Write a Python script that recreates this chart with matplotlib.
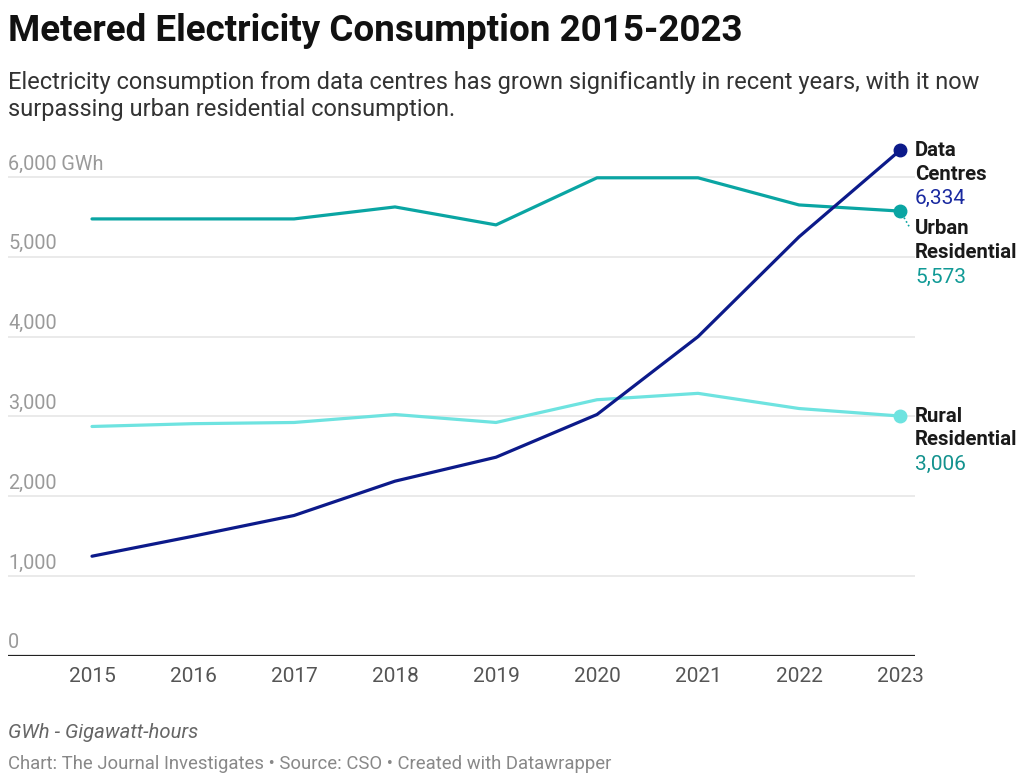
import matplotlib
matplotlib.use("Agg")
import matplotlib.pyplot as plt
import matplotlib.transforms as mtransforms

years = [2015, 2016, 2017, 2018, 2019, 2020, 2021, 2022, 2023]
data_centres = [1250, 1500, 1760, 2190, 2490, 3025, 4000, 5250, 6334]
urban_residential = [5475, 5475, 5475, 5625, 5400, 5990, 5990, 5650, 5573]
rural_residential = [2875, 2910, 2925, 3025, 2925, 3210, 3290, 3100, 3006]
y_ticks = [0, 1000, 2000, 3000, 4000, 5000, 6000]
y_tick_labels = ["0", "1,000", "2,000", "3,000", "4,000", "5,000", "6,000 GWh"]

title = "Metered Electricity Consumption 2015-2023"
subtitle = ("Electricity consumption from data centres has grown significantly in recent years, with it now\n"
            "surpassing urban residential consumption.")
note = "GWh - Gigawatt-hours"
credit = "Chart: The Journal Investigates • Source: CSO • Created with Datawrapper"

c_dc = "#0c1a8a"
c_ur = "#0aa5a3"
c_rr = "#6ee3e0"
c_dc_txt = "#1a2aa0"
c_ur_txt = "#109a96"
c_rr_txt = "#13928e"

plt.rcParams['font.family'] = ['Roboto', 'DejaVu Sans']

W, H = 1024, 784
fig = plt.figure(figsize=(W / 100, H / 100), dpi=100)

ax_l, ax_r, ax_t, ax_b = 8, 915, 140, 656
ax = fig.add_axes([ax_l / W, 1 - ax_b / H, (ax_r - ax_l) / W, (ax_b - ax_t) / H])

px_per_year = 101.0
x0 = 2015 - (92 - ax_l) / px_per_year
x1 = 2023 + (ax_r - 900) / px_per_year
ax.set_xlim(x0, x1)
px_per_unit = (656 - 177) / 6000.0
ax.set_ylim(0, (ax_b - ax_t) / px_per_unit)

for yt in y_ticks[1:]:
    ax.axhline(yt, color="#e6e6e6", lw=1.2, zorder=0)
ax.axhline(0, color="#222222", lw=1.6, zorder=3)

ax.plot(years, rural_residential, color=c_rr, lw=2.3, solid_capstyle="round", zorder=4)
ax.plot(years, urban_residential, color=c_ur, lw=2.3, solid_capstyle="round", zorder=5)
ax.plot(years, data_centres, color=c_dc, lw=2.3, solid_capstyle="round", zorder=6)
ax.plot([years[-1]], [rural_residential[-1]], 'o', color=c_rr, ms=9, zorder=7)
ax.plot([years[-1]], [urban_residential[-1]], 'o', color=c_ur, ms=9, zorder=7)
ax.plot([years[-1]], [data_centres[-1]], 'o', color=c_dc, ms=9, zorder=7)

for s in ax.spines.values():
    s.set_visible(False)
ax.set_yticks([])
ax.set_xticks(years)
ax.set_xticklabels([str(y) for y in years])
ax.tick_params(axis='x', length=0, pad=8, labelsize=15, labelcolor="#555555")

off = mtransforms.ScaledTranslation(0, 3.5 / 100, fig.dpi_scale_trans)
for yt, lab in zip(y_ticks, y_tick_labels):
    ax.text(0.0, yt, lab, transform=ax.get_yaxis_transform() + off, ha='left', va='bottom',
            fontsize=14.3, color="#9a9a9a")

def ftext(x, y, s, **kw):
    fig.text(x / W, 1 - y / H, s, **kw)

lx = 915
bsz, vsz = 14.7, 15
ftext(lx, 151, "Data", fontsize=bsz, fontweight='bold', color="#1a1a1a", va='center')
ftext(lx, 174, "Centres", fontsize=bsz, fontweight='bold', color="#1a1a1a", va='center')
ftext(lx, 198, "6,334", fontsize=vsz, color=c_dc_txt, va='center')
ftext(lx, 229, "Urban", fontsize=bsz, fontweight='bold', color="#1a1a1a", va='center')
ftext(lx, 253, "Residential", fontsize=bsz, fontweight='bold', color="#1a1a1a", va='center')
ftext(lx, 277, "5,573", fontsize=vsz, color=c_ur_txt, va='center')
ftext(lx, 416, "Rural", fontsize=bsz, fontweight='bold', color="#1a1a1a", va='center')
ftext(lx, 440, "Residential", fontsize=bsz, fontweight='bold', color="#1a1a1a", va='center')
ftext(lx, 464, "3,006", fontsize=vsz, color=c_rr_txt, va='center')

fig.add_artist(plt.Line2D([902 / W, 910 / W], [1 - 214 / H, 1 - 228 / H], color=c_ur, lw=1.2,
                          linestyle=(0, (1, 1.5))))

ftext(8, 31, title, fontsize=26.5, fontweight='bold', color="#111111", va='center')
ftext(8, 96, subtitle, fontsize=17, color="#333333", va='center', linespacing=1.27)
ftext(8, 733, note, fontsize=14.6, color="#666666", style='italic', va='center')
ftext(8, 764, credit, fontsize=13.3, color="#888888", va='center')

fig.savefig("out.png", dpi=100)
